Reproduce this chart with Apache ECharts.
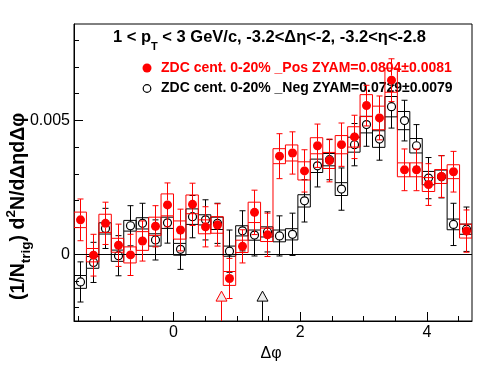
<!DOCTYPE html>
<html><head><meta charset="utf-8">
<script src="https://cdn.jsdelivr.net/npm/echarts@6/dist/echarts.min.js"></script>
<style>html,body{margin:0;padding:0;background:#fff}#c{width:496px;height:374px}</style>
</head><body><div id="c"></div>
<script>
// ---- data ----
const dphi = [-1.4726,-1.2763,-1.0799,-0.8836,-0.6872,-0.4909,-0.2945,-0.0982,
  0.0982,0.2945,0.4909,0.6872,0.8836,1.0799,1.2763,1.4726,
  1.6690,1.8653,2.0617,2.2580,2.4544,2.6507,2.8471,3.0434,
  3.2398,3.4361,3.6325,3.8288,4.0252,4.2215,4.4179,4.6142];
const posY = [0.00128,-0.00004,0.00115,0.00033,-0.00003,0.00049,0.00104,0.00184,
  0.00090,0.00186,0.00102,0.00109,-0.00091,0.00029,0.00156,0.00072,
  0.00366,0.00378,0.00311,0.00405,0.00350,0.00409,0.00438,0.00555,
  0.00509,0.00650,0.00315,0.00315,0.00260,0.00290,0.00308,0.00086];
const posStat = [0.00078,0.00078,0.00079,0.00079,0.00077,0.00075,0.00077,0.00082,
  0.00078,0.00079,0.00075,0.00079,0.00075,0.00062,0.00083,0.00081,
  0.00084,0.00079,0.00079,0.00081,0.00080,0.00081,0.00081,0.00076,
  0.00082,0.00080,0.00078,0.00078,0.00078,0.00078,0.00076,0.00079];
const posSys = [0.00029,0.00025,0.00034,0.00026,0.00030,0.00035,0.00034,0.00041,
  0.00034,0.00035,0.00026,0.00031,0.00026,0.00023,0.00038,0.00025,
  0.00028,0.00030,0.00034,0.00030,0.00030,0.00034,0.00038,0.00041,
  0.00044,0.00045,0.00026,0.00026,0.00026,0.00026,0.00026,0.00026];
const negY = [-0.00104,-0.00031,0.00096,-0.00006,0.00106,0.00115,0.00053,0.00117,
  0.00018,0.00140,0.00128,0.00115,0.00011,0.00087,0.00071,0.00083,
  0.00068,0.00074,0.00199,0.00330,0.00353,0.00243,0.00409,0.00484,
  0.00430,0.00551,0.00499,0.00405,0.00284,0.00289,0.00111,0.00093];
const negStat = [0.00075,0.00075,0.00075,0.00075,0.00075,0.00075,0.00075,0.00076,
  0.00075,0.00079,0.00075,0.00075,0.00079,0.00075,0.00078,0.00075,
  0.00075,0.00079,0.00079,0.00079,0.00075,0.00079,0.00079,0.00081,
  0.00079,0.00080,0.00076,0.00079,0.00077,0.00079,0.00079,0.00083];
const negSys = [0.00024,0.00022,0.00021,0.00021,0.00020,0.00021,0.00023,0.00021,
  0.00022,0.00029,0.00019,0.00023,0.00019,0.00019,0.00019,0.00019,
  0.00022,0.00021,0.00023,0.00025,0.00023,0.00024,0.00028,0.00031,
  0.00031,0.00038,0.00034,0.00027,0.00025,0.00025,0.00020,0.00019];
const arrowPosX = [0.75];
const arrowNegX = [1.40];
const arrowY = [-0.00157];
const xTickLabels = [0, 2, 4];
const xMinorTicks = [-1.5,-1,-0.5,0,0.5,1,1.5,2,2.5,3,3.5,4,4.5];
const yTickLabels = [0, 0.005];
const yMinorTicks = [-0.002,-0.001,0,0.001,0.002,0.003,0.004,0.005,0.006,0.007,0.008];
const titleText = ['1 < p', 'T', ' < 3 GeV/c, -3.2<\u0394\u03b7<-2, -3.2<\u03b7<-2.8'];
const legendPos = 'ZDC cent. 0-20% _Pos ZYAM=0.0804\u00b10.0081';
const legendNeg = 'ZDC cent. 0-20% _Neg ZYAM=0.0729\u00b10.0079';
const yTitle = ['(1/N', 'trig', ') d', '2', 'N/d\u0394\u03b7d\u0394\u03c6'];
const xTitle = '\u0394\u03c6';

// ---- layout ----
const BIN_W = Math.PI / 16;
const X_MIN = -Math.PI / 2, X_MAX = 3 * Math.PI / 2;
const Y_MIN = -0.0025, Y_MAX = 0.0086;
const FF = '"Liberation Sans", Arial, Helvetica, sans-serif';
const RED = '#ff0000', BLACK = '#000000';

const mctx = document.createElement('canvas').getContext('2d');
function tw(t, font) { mctx.font = font; return mctx.measureText(t).width; }
function fontOf(size, bold) { return (bold ? 'bold ' : '') + size + 'px ' + FF; }
function pieces(list, x0, base, fill) {
  let x = x0; const els = [];
  list.forEach(p => {
    const f = fontOf(p.size, p.bold);
    els.push({ type: 'text', x: x, y: base + (p.dy || 0) - 0.35 * p.size, silent: true,
      style: { text: p.t, font: f, fill: fill, align: 'left', verticalAlign: 'middle',
        textAlign: 'left', textVerticalAlign: 'middle' } });
    x += tw(p.t, f) + (p.adv || 0);
  });
  return els;
}

// systematic boxes, drawn as outlines joined to the neighbouring bin where they do not overlap
function boxSeries(ys, syss, color, z) {
  return {
    type: 'custom', z: z, clip: true, silent: true,
    data: dphi.map((x, i) => [x, ys[i], syss[i]]),
    encode: { x: 0, y: 1 },
    renderItem: (params, api) => {
      const i = params.dataIndex;
      const x = api.value(0), y = api.value(1), s = api.value(2);
      const a = api.coord([x - BIN_W / 2, y + s]);
      const b = api.coord([x + BIN_W / 2, y - s]);
      const ch = [{ type: 'rect', shape: { x: a[0], y: a[1], width: b[0] - a[0], height: b[1] - a[1] },
        style: { fill: 'none', stroke: color, lineWidth: 1 } }];
      if (i < ys.length - 1) {
        const loA = y - s, hiA = y + s;
        const loB = ys[i + 1] - syss[i + 1], hiB = ys[i + 1] + syss[i + 1];
        let g = null;
        if (hiA < loB) g = [hiA, loB];
        else if (hiB < loA) g = [hiB, loA];
        if (g) {
          const p1 = api.coord([x + BIN_W / 2, g[0]]);
          const p2 = api.coord([x + BIN_W / 2, g[1]]);
          ch.push({ type: 'line', shape: { x1: b[0], y1: p1[1], x2: b[0], y2: p2[1] },
            style: { stroke: color, lineWidth: 1 } });
        }
      }
      return { type: 'group', children: ch };
    }
  };
}
function pointSeries(ys, stats, color, filled, z) {
  const r = filled ? 4.5 : 4;
  return {
    type: 'custom', z: z, clip: true, silent: true,
    data: dphi.map((x, i) => [x, ys[i], stats[i]]),
    encode: { x: 0, y: 1 },
    renderItem: (params, api) => {
      const x = api.value(0), y = api.value(1), e = api.value(2);
      const c = api.coord([x, y]);
      const t = api.coord([x, y + e]);
      const b = api.coord([x, y - e]);
      const cx = Math.round(c[0]) + 0.5;
      const ls = { stroke: color, lineWidth: 1 };
      return { type: 'group', children: [
        { type: 'line', shape: { x1: cx, y1: c[1] - r, x2: cx, y2: t[1] }, style: ls },
        { type: 'line', shape: { x1: cx, y1: c[1] + r, x2: cx, y2: b[1] }, style: ls },
        { type: 'line', shape: { x1: cx - 3, y1: t[1], x2: cx + 3, y2: t[1] }, style: ls },
        { type: 'line', shape: { x1: cx - 3, y1: b[1], x2: cx + 3, y2: b[1] }, style: ls },
        { type: 'circle', shape: { cx: cx, cy: c[1], r: r },
          style: filled ? { fill: color } : { fill: 'none', stroke: color, lineWidth: 1.2 } }
      ] };
    }
  };
}
function arrowSeries(xs, color, z) {
  return {
    type: 'custom', z: z, clip: true, silent: true,
    data: xs.map(x => [x, arrowY[0]]),
    encode: { x: 0, y: 1 },
    renderItem: (params, api) => {
      const c = api.coord([api.value(0), api.value(1)]);
      const bot = api.coord([api.value(0), Y_MIN]);
      const cx = Math.round(c[0]) + 0.5;
      return { type: 'group', children: [
        { type: 'line', shape: { x1: cx, y1: c[1] + 5, x2: cx, y2: bot[1] }, style: { stroke: color, lineWidth: 1 } },
        { type: 'polygon', shape: { points: [[cx, c[1] - 5], [cx + 5.5, c[1] + 5], [cx - 5.5, c[1] + 5]] },
          style: { fill: '#ececec', stroke: color, lineWidth: 1 } }
      ] };
    }
  };
}

const axisFont = { color: '#000', fontSize: 16, fontFamily: FF };
const graphics = [];
graphics.push(...pieces([
  { t: titleText[0], size: 16.5, bold: true },
  { t: titleText[1], size: 11, bold: true, dy: 8 },
  { t: titleText[2], size: 16.5, bold: true }
], 113, 43, BLACK));
graphics.push({ type: 'circle', shape: { cx: 147, cy: 68, r: 4.5 }, style: { fill: RED }, silent: true });
graphics.push(...pieces([{ t: legendPos, size: 14, bold: true }], 161, 73, RED));
graphics.push({ type: 'circle', shape: { cx: 147, cy: 88.5, r: 3.8 }, style: { fill: 'none', stroke: BLACK, lineWidth: 1.2 }, silent: true });
graphics.push(...pieces([{ t: legendNeg, size: 14, bold: true }], 161, 93, BLACK));
{
  const f = fontOf(16, false);
  graphics.push({ type: 'text', x: 271 - tw(xTitle, f) / 2, y: 359 - 0.35 * 16, silent: true,
    style: { text: xTitle, font: f, fill: BLACK, align: 'left', verticalAlign: 'middle' } });
}
graphics.push({ type: 'group', x: 25, y: 300, rotation: Math.PI / 2, silent: true,
  children: pieces([
    { t: yTitle[0], size: 19.5, bold: true },
    { t: yTitle[1], size: 13.5, bold: true, dy: 6 },
    { t: yTitle[2], size: 19.5, bold: true },
    { t: yTitle[3], size: 13.5, bold: true, dy: -9 },
    { t: yTitle[4], size: 19.5, bold: true }
  ], 0, 0, BLACK) });

const chart = echarts.init(document.getElementById('c'), null, { renderer: 'canvas' });
chart.setOption({
  animation: false,
  backgroundColor: '#fff',
  grid: { left: 74, top: 24, width: 398, height: 297, show: true, borderColor: '#000', borderWidth: 1, backgroundColor: 'transparent' },
  xAxis: [{
    type: 'value', min: X_MIN, max: X_MAX, position: 'bottom',
    axisLine: { show: true, onZero: false, lineStyle: { color: '#000', width: 1 } },
    axisTick: { show: true, inside: true, length: 5, customValues: xMinorTicks, lineStyle: { color: '#000' } },
    axisLabel: Object.assign({ show: true, customValues: xTickLabels, margin: 4, formatter: v => String(v) }, axisFont),
    splitLine: { show: false }
  }, {
    type: 'value', min: X_MIN, max: X_MAX, position: 'bottom',
    axisLine: { show: false, onZero: false },
    axisTick: { show: true, inside: true, length: 9, customValues: xTickLabels, lineStyle: { color: '#000' } },
    axisLabel: { show: false }, splitLine: { show: false }
  }],
  yAxis: [{
    type: 'value', min: Y_MIN, max: Y_MAX, position: 'left',
    axisLine: { show: true, onZero: false, lineStyle: { color: '#000', width: 1 } },
    axisTick: { show: true, inside: true, length: 5, customValues: yMinorTicks, lineStyle: { color: '#000' } },
    axisLabel: Object.assign({ show: true, customValues: yTickLabels, margin: 4, formatter: v => v === 0 ? '0' : v.toFixed(3) }, axisFont),
    splitLine: { show: false }
  }, {
    type: 'value', min: Y_MIN, max: Y_MAX, position: 'left',
    axisLine: { show: false, onZero: false },
    axisTick: { show: true, inside: true, length: 9, customValues: yTickLabels, lineStyle: { color: '#000' } },
    axisLabel: { show: false }, splitLine: { show: false }
  }],
  series: [
    { type: 'line', data: [], silent: true,
      markLine: { silent: true, symbol: 'none', label: { show: false }, animation: false,
        lineStyle: { color: '#000', width: 1, type: 'solid' }, data: [{ yAxis: 0 }] } },
    boxSeries(negY, negSys, BLACK, 2),
    pointSeries(negY, negStat, BLACK, false, 3),
    boxSeries(posY, posSys, RED, 4),
    pointSeries(posY, posStat, RED, true, 5),
    arrowSeries(arrowPosX, RED, 6),
    arrowSeries(arrowNegX, BLACK, 6)
  ],
  graphic: { elements: graphics }
});
</script></body></html>
